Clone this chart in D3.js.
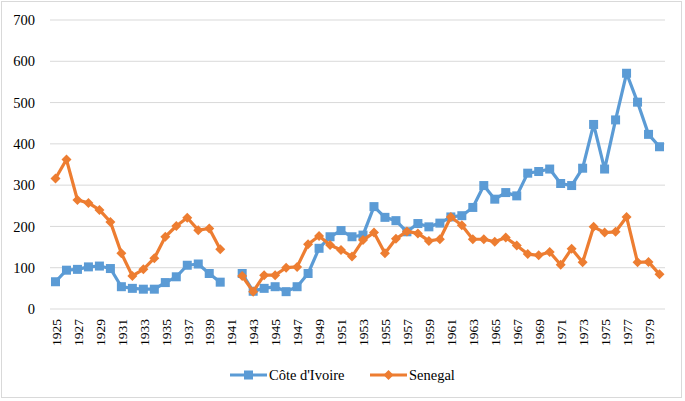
<!DOCTYPE html>
<html><head><meta charset="utf-8">
<script src="https://cdn.jsdelivr.net/npm/d3@7/dist/d3.min.js"></script>
<style>body{margin:0;background:#fff}svg{display:block}svg text{font-family:"Liberation Serif","Tinos","DejaVu Serif","Times New Roman",Times,serif !important;fill:#000}</style>
</head><body><svg id="c" width="685" height="401"></svg>
<script>
const years = d3.range(1925, 1981);
const yTicks = [0,100,200,300,400,500,600,700];
const xTickYears = d3.range(1925, 1981, 2);
const coteDIvoire = [66,94,96,102,104,98,54,50,48,48,64,78,106,109,86,65,null,86,43,50,54,42,54,86,147,175,190,175,179,248,222,214,187,207,199,208,223,226,246,299,266,282,274,329,333,339,304,299,341,447,339,458,571,501,423,393];
const senegal = [316,362,264,257,240,211,135,80,96,123,175,201,221,191,195,145,null,80,42,82,82,100,102,157,177,155,143,127,167,185,135,170,188,183,165,169,223,203,169,169,163,173,154,133,130,138,107,146,113,199,185,187,223,113,114,84];
const seriesNames = ["Côte d'Ivoire","Senegal"];
const colors = ["#5b9bd5","#ed7d31"];

(function(){
const svg = d3.select("#c");
svg.append("rect").attr("x",1.5).attr("y",1.5).attr("width",680).attr("height",396).attr("fill","none").attr("stroke","#d9d9d9");
const pLeft=50,pRight=665,pTop=20,pBottom=309;
const x = d3.scalePoint().domain(years).range([pLeft,pRight]).padding(0.5);
const y = d3.scaleLinear().domain([0,700]).range([pBottom,pTop]);

svg.append("g").selectAll("line").data(yTicks).join("line")
  .attr("x1",pLeft).attr("x2",pRight).attr("y1",d=>y(d)).attr("y2",d=>y(d))
  .attr("stroke","#d9d9d9").attr("stroke-width",1);

const ya = svg.append("g").attr("transform",`translate(${pLeft},0)`).attr("font-family",null)
  .call(d3.axisLeft(y).tickValues(yTicks).tickSize(0).tickPadding(15));
ya.attr("font-family",null);
ya.select(".domain").remove();
ya.selectAll("text").style("font-size","14.5px");

const xa = svg.append("g").attr("transform",`translate(0,${pBottom})`)
  .call(d3.axisBottom(x).tickValues(xTickYears).tickSize(0));
xa.attr("font-family",null);
xa.select(".domain").remove();
xa.selectAll("text").style("font-size","13.5px")
  .attr("transform","rotate(-90)").attr("text-anchor","end").attr("x",-10).attr("y",0).attr("dy","0.35em");

const data = [coteDIvoire, senegal];
const line = d3.line().defined(d=>d.v!=null).x(d=>x(d.year)).y(d=>y(d.v));
data.forEach((arr,i)=>{
  const pts = years.map((yr,j)=>({year:yr,v:arr[j]}));
  svg.append("path").datum(pts).attr("d",line).attr("fill","none")
    .attr("stroke",colors[i]).attr("stroke-width",3.2).attr("stroke-linejoin","round");
  const g = svg.append("g");
  const valid = pts.filter(d=>d.v!=null);
  if(i===0){
    g.selectAll("rect").data(valid).join("rect")
      .attr("x",d=>x(d.year)-4.5).attr("y",d=>y(d.v)-4.5).attr("width",9).attr("height",9).attr("fill",colors[i]);
  } else {
    g.selectAll("path").data(valid).join("path")
      .attr("d",d3.symbol(d3.symbolSquare,50))
      .attr("transform",d=>`translate(${x(d.year)},${y(d.v)}) rotate(45)`).attr("fill",colors[i]);
  }
});

const leg = [{x:230,tx:269},{x:370,tx:409}];
leg.forEach((l,i)=>{
  const ly=375;
  svg.append("line").attr("x1",l.x).attr("x2",l.x+37).attr("y1",ly).attr("y2",ly).attr("stroke",colors[i]).attr("stroke-width",3.2);
  if(i===0) svg.append("rect").attr("x",l.x+18.5-4.5).attr("y",ly-4.5).attr("width",9).attr("height",9).attr("fill",colors[i]);
  else svg.append("path").attr("d",d3.symbol(d3.symbolSquare,50)).attr("transform",`translate(${l.x+18.5},${ly}) rotate(45)`).attr("fill",colors[i]);
  svg.append("text").attr("x",l.tx).attr("y",ly).attr("dy","0.35em").style("font-size","14.5px").text(seriesNames[i]);
});
})();
</script></body></html>
